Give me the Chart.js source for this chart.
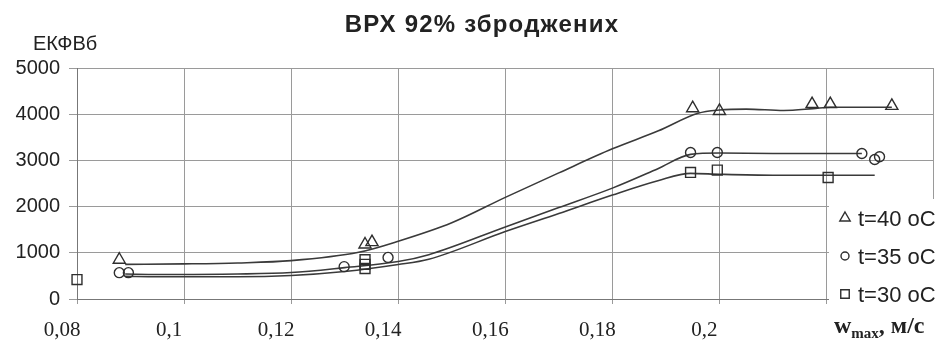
<!DOCTYPE html>
<html>
<head>
<meta charset="utf-8">
<style>
  html, body { margin: 0; padding: 0; background: #fff; overflow: hidden; }
  canvas { display: block; }
</style>
<script src="https://cdn.jsdelivr.net/npm/chart.js@4.4.1/dist/chart.umd.min.js"></script>
</head>
<body>
<canvas id="chart" width="942" height="344"></canvas>
<script>
// Texts
const chartTitle = 'ВРХ 92% зброджених';
const yAxisLabel = 'ЕКФВб';
const seriesLabels = ['t=40 oC', 't=35 oC', 't=30 oC'];

// Axis ticks (x in m/s, y in ЕКФВб)
const xTickValues = [0.08, 0.10, 0.12, 0.14, 0.16, 0.18, 0.20, 0.22, 0.24];
const xTickLabels = ['0,08', '0,1', '0,12', '0,14', '0,16', '0,18', '0,2', '', ''];
const yTickValues = [0, 1000, 2000, 3000, 4000, 5000];

// Measured points, t = 40 °C
const w40 = [0.0879, 0.1338, 0.1351, 0.1950, 0.2000, 0.2173, 0.2207, 0.2322];
const e40 = [850, 1180, 1230, 4130, 4070, 4220, 4220, 4180];
// Measured points, t = 35 °C
const w35 = [0.0879, 0.0896, 0.1299, 0.1381, 0.1946, 0.1996, 0.2266, 0.2290, 0.2299];
const e35 = [570, 570, 700, 900, 3170, 3170, 3150, 3020, 3080];
// Measured points, t = 30 °C
const w30 = [0.0800, 0.1338, 0.1338, 0.1338, 0.1946, 0.1996, 0.2203];
const e30 = [420, 850, 750, 660, 2740, 2790, 2630];

// Smoothed trend curves
const fitW40 = [0.089, 0.10, 0.11, 0.12, 0.1326, 0.14, 0.15, 0.16, 0.17, 0.18, 0.1886, 0.196, 0.200, 0.205, 0.212, 0.2175, 0.2207, 0.2322];
const fitE40 = [750, 760, 780, 830, 1010, 1250, 1650, 2200, 2730, 3250, 3640, 4020, 4090, 4110, 4080, 4120, 4150, 4150];
const fitW35 = [0.089, 0.095, 0.11, 0.12, 0.13, 0.14, 0.1457, 0.16, 0.17, 0.18, 0.1885, 0.1946, 0.200, 0.210, 0.2266];
const fitE35 = [540, 530, 540, 572, 680, 810, 960, 1560, 1980, 2400, 2820, 3130, 3160, 3150, 3150];
const fitW30 = [0.089, 0.095, 0.11, 0.12, 0.13, 0.14, 0.1457, 0.16, 0.17, 0.18, 0.1885, 0.1946, 0.200, 0.210, 0.229];
const fitE30 = [490, 480, 480, 508, 594, 745, 860, 1460, 1850, 2250, 2560, 2720, 2700, 2680, 2680];

const toXY = (xs, ys) => xs.map((x, i) => ({ x: x, y: ys[i] }));

const ink = '#2e2e2e';
const gridGray = '#9a9a9a';

function pointSet(label, xs, ys, style, radius) {
  return {
    label: label,
    data: toXY(xs, ys),
    showLine: false,
    pointStyle: style,
    pointRadius: radius,
    pointBorderWidth: 1.4,
    pointBorderColor: ink,
    pointBackgroundColor: 'rgba(255,255,255,0)',
    borderColor: ink,
    clip: false,
    order: 1,
    inKey: true
  };
}
function curveSet(xs, ys) {
  return {
    label: '',
    data: toXY(xs, ys),
    borderColor: '#3a3a3a',
    borderWidth: 1.6,
    pointRadius: 0,
    cubicInterpolationMode: 'monotone',
    fill: false,
    order: 2
  };
}

// Title, corner axis labels and the key box drawn over the plot
const annotations = {
  id: 'annotations',
  afterDraw(chart) {
    const ctx = chart.ctx;
    ctx.save();
    ctx.fillStyle = '#222';
    ctx.textBaseline = 'alphabetic';

    ctx.font = 'bold 24px "Liberation Sans", Arial, sans-serif';
    ctx.letterSpacing = '1.2px';
    ctx.textAlign = 'center';
    ctx.fillText(chartTitle, 482, 32);
    ctx.letterSpacing = '0px';

    ctx.font = '20px "Liberation Sans", Arial, sans-serif';
    ctx.textAlign = 'left';
    ctx.fillText(yAxisLabel, 33, 50);

    // key box
    ctx.fillStyle = '#fff';
    ctx.fillRect(829, 199, 113, 114);
    const rows = [218, 256, 294];
    const keyed = chart.data.datasets.filter(d => d.inKey);
    keyed.forEach((d, i) => {
      const y = rows[i];
      ctx.lineWidth = 1.4;
      ctx.strokeStyle = ink;
      ctx.fillStyle = 'rgba(255,255,255,0)';
      Chart.helpers.drawPoint(ctx, {
        pointStyle: d.pointStyle,
        radius: d.pointStyle === 'circle' ? 4 : 6,
        rotation: 0,
        borderWidth: 1.4
      }, 845, y);
      ctx.fillStyle = '#222';
      ctx.font = '22px "Liberation Sans", Arial, sans-serif';
      ctx.textAlign = 'left';
      ctx.fillText(d.label, 858, y + 8);
    });

    // x-axis caption with subscript
    ctx.fillStyle = '#222';
    let x = 834;
    ctx.font = 'bold 24px "Liberation Serif", "Times New Roman", serif';
    ctx.fillText('w', x, 333);
    x += ctx.measureText('w').width;
    ctx.font = 'bold 15px "Liberation Serif", "Times New Roman", serif';
    ctx.fillText('max', x, 338);
    x += ctx.measureText('max').width;
    ctx.font = 'bold 24px "Liberation Serif", "Times New Roman", serif';
    ctx.fillText(', м/с', x, 333);
    ctx.restore();
  }
};

new Chart(document.getElementById('chart'), {
  type: 'line',
  data: {
    datasets: [
      pointSet(seriesLabels[0], w40, e40, 'triangle', 7),
      pointSet(seriesLabels[1], w35, e35, 'circle', 5),
      pointSet(seriesLabels[2], w30, e30, 'rect', 7),
      curveSet(fitW40, fitE40),
      curveSet(fitW35, fitE35),
      curveSet(fitW30, fitE30)
    ]
  },
  options: {
    responsive: false,
    animation: false,
    devicePixelRatio: 1,
    layout: { padding: { top: 68, right: 4, bottom: 0, left: 0 } },
    plugins: { legend: { display: false }, tooltip: { enabled: false }, title: { display: false } },
    scales: {
      x: {
        type: 'linear',
        min: xTickValues[0],
        max: xTickValues[xTickValues.length - 1],
        afterBuildTicks(scale) { scale.ticks = xTickValues.map(v => ({ value: v })); },
        afterFit(scale) {
          scale.height = 45;
          scale.paddingLeft = 0;
          scale.paddingRight = 0;
        },
        grid: { color: gridGray, lineWidth: 1, tickLength: 5, tickColor: gridGray },
        border: { color: '#777', width: 1 },
        ticks: {
          color: '#222',
          font: { family: '"Liberation Serif", "Times New Roman", serif', size: 21 },
          padding: 14,
          labelOffset: -15,
          maxRotation: 0,
          autoSkip: false,
          callback(value, index) { return xTickLabels[index]; }
        }
      },
      y: {
        type: 'linear',
        min: yTickValues[0],
        max: yTickValues[yTickValues.length - 1],
        afterBuildTicks(scale) { scale.ticks = yTickValues.map(v => ({ value: v })); },
        afterFit(scale) {
          scale.width = 77;
          scale.paddingTop = 0;
          scale.paddingBottom = 0;
        },
        grid: { color: gridGray, lineWidth: 1, tickLength: 8, tickColor: gridGray },
        border: { color: '#777', width: 1 },
        ticks: {
          color: '#222',
          font: { family: '"Liberation Sans", Arial, sans-serif', size: 20 },
          padding: 9,
          callback(value) { return String(value); }
        }
      }
    }
  },
  plugins: [annotations]
});
</script>
</body>
</html>
